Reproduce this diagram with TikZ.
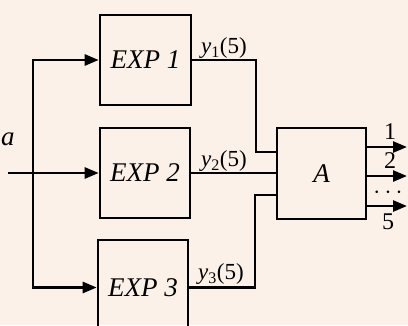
\documentclass[tikz,border=0pt]{standalone}
\usepackage{fontspec}
\setmainfont{Liberation Serif}
\usetikzlibrary{arrows.meta}
\definecolor{paper}{RGB}{252,241,232}
\begin{document}
\begin{tikzpicture}[x=1pt,y=-1pt,
  wire/.style={line width=2.6pt},
  arr/.style={wire,-{Triangle[length=14pt,width=11pt]}},
  blk/.style={draw,line width=2.6pt,inner sep=0pt,font=\fontsize{27}{29}\selectfont\itshape},
  lab/.style={inner sep=1pt,font=\fontsize{23}{25}\selectfont},
  num/.style={inner sep=1pt,font=\fontsize{24}{26}\selectfont}]
\fill[paper] (0,0) rectangle (408,325);
\useasboundingbox (0,0) rectangle (408,325);
\node[blk,minimum width=91pt,minimum height=90pt] (e1) at (145.5,60) {EXP 1};
\node[blk,minimum width=90pt,minimum height=90pt] (e2) at (145,173) {EXP 2};
\node[blk,minimum width=90pt,minimum height=95pt] (e3) at (143,287.5) {EXP 3};
\node[blk,minimum width=89pt,minimum height=91pt] (A) at (321.5,173.5) {A};
% input
\coordinate (in) at (8,173);
\coordinate (j) at (33,173);
\node[lab,font=\fontsize{27}{29}\selectfont\itshape] (a) at (8,139) {a};
\draw[arr] (in) -- (e2.west);
\draw[arr] (j) |- (e1.west);
\draw[arr] (j) |- (e3.west);
% outputs of EXP blocks
\coordinate (k1) at (256,152);
\coordinate (k3) at (255,195);
\draw[wire] (e1.east) -| (k1) -- (k1 -| A.west);
\draw[wire] (e2.east) -- (e2.east -| A.west);
\draw[wire] (e3.east) -| (k3) -- (k3 -| A.west);
\node[lab,anchor=south] (l1) at (224,60) {\textit{y}\textsubscript{1}(5)};
\node[lab,anchor=south] (l2) at (224,173) {\textit{y}\textsubscript{2}(5)};
\node[lab,anchor=south] (l3) at (221,286) {\textit{y}\textsubscript{3}(5)};
% outputs of A
\coordinate (o1) at (407,147);
\coordinate (o2) at (407,176);
\coordinate (o3) at (407,206);
\draw[arr] (A.east |- o1) -- (o1);
\draw[arr] (A.east |- o2) -- (o2);
\draw[arr] (A.east |- o3) -- (o3);
\node[num] (n1) at (390,132) {1};
\node[num] (n2) at (390,161) {2};
\node[lab] (nd) at (388,193) {$\cdots$};
\node[num] (n5) at (388,222) {5};
\end{tikzpicture}
\end{document}
